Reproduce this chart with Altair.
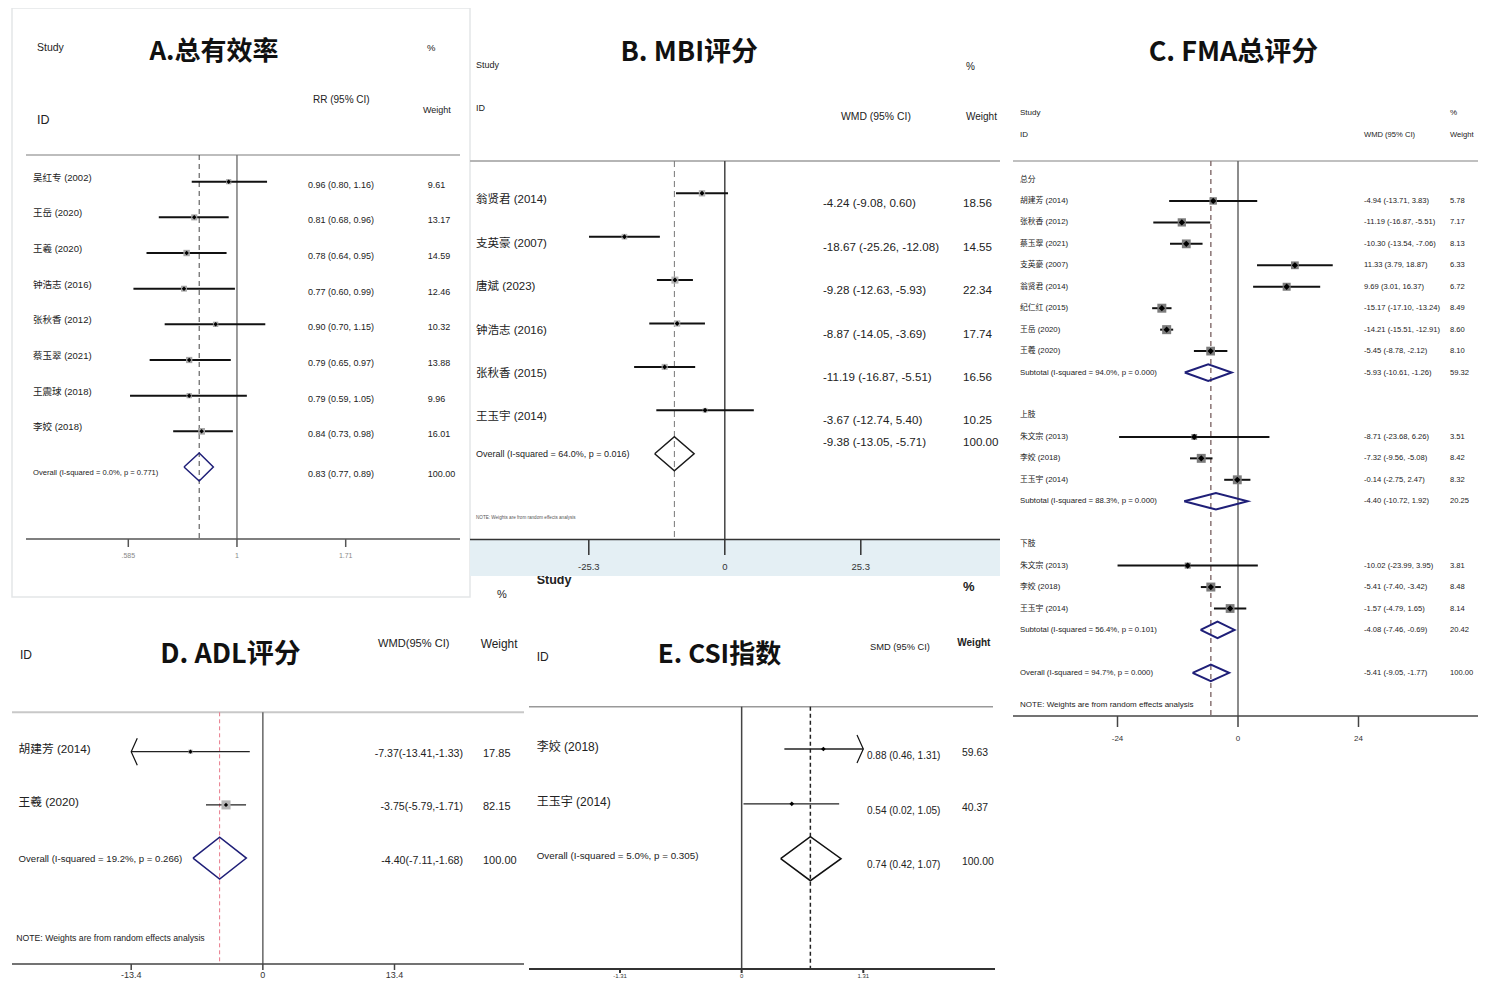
import altair as alt
import pandas as pd

# ---------------- data ----------------
# A. 总有效率 (RR)
A_LABELS = ["吴红专 (2002)", "王岳 (2020)", "王羲 (2020)", "钟浩志 (2016)", "张秋香 (2012)",
            "蔡玉翠 (2021)", "王震球 (2018)", "李姣 (2018)", "Overall  (I-squared = 0.0%, p = 0.771)"]
A_EST = [0.96, 0.81, 0.78, 0.77, 0.90, 0.79, 0.79, 0.84, 0.83]
A_LO = [0.80, 0.68, 0.64, 0.60, 0.70, 0.65, 0.59, 0.73, 0.77]
A_HI = [1.16, 0.96, 0.95, 0.99, 1.15, 0.97, 1.05, 0.98, 0.89]
A_WT = [9.61, 13.17, 14.59, 12.46, 10.32, 13.88, 9.96, 16.01, 100.00]
A_KIND = ["study"] * 8 + ["pool"]
A_ROW = list(range(9))

# B. MBI评分 (WMD)
B_LABELS = ["翁贤君 (2014)", "支英豪 (2007)", "唐斌 (2023)", "钟浩志 (2016)", "张秋香 (2015)",
            "王玉宇 (2014)", "Overall  (I-squared = 64.0%, p = 0.016)"]
B_EST = [-4.24, -18.67, -9.28, -8.87, -11.19, -3.67, -9.38]
B_LO = [-9.08, -25.26, -12.63, -14.05, -16.87, -12.74, -13.05]
B_HI = [0.60, -12.08, -5.93, -3.69, -5.51, 5.40, -5.71]
B_WT = [18.56, 14.55, 22.34, 17.74, 16.56, 10.25, 100.00]
B_KIND = ["study"] * 6 + ["pool"]
B_ROW = list(range(7))

# C. FMA总评分 (WMD, subgroups)
C_LABELS = ["总分", "胡建芳 (2014)", "张秋香 (2012)", "蔡玉翠 (2021)", "支英豪 (2007)", "翁贤君 (2014)",
            "纪仁红 (2015)", "王岳 (2020)", "王羲 (2020)", "Subtotal  (I-squared = 94.0%, p = 0.000)",
            "上肢", "朱文宗 (2013)", "李姣 (2018)", "王玉宇 (2014)", "Subtotal  (I-squared = 88.3%, p = 0.000)",
            "下肢", "朱文宗 (2013)", "李姣 (2018)", "王玉宇 (2014)", "Subtotal  (I-squared = 56.4%, p = 0.101)",
            "Overall  (I-squared = 94.7%, p = 0.000)"]
C_EST = [None, -4.94, -11.19, -10.30, 11.33, 9.69, -15.17, -14.21, -5.45, -5.93,
         None, -8.71, -7.32, -0.14, -4.40,
         None, -10.02, -5.41, -1.57, -4.08, -5.41]
C_LO = [None, -13.71, -16.87, -13.54, 3.79, 3.01, -17.10, -15.51, -8.78, -10.61,
        None, -23.68, -9.56, -2.75, -10.72,
        None, -23.99, -7.40, -4.79, -7.46, -9.05]
C_HI = [None, 3.83, -5.51, -7.06, 18.87, 16.37, -13.24, -12.91, -2.12, -1.26,
        None, 6.26, -5.08, 2.47, 1.92,
        None, 3.95, -3.42, 1.65, -0.69, -1.77]
C_WT = [None, 5.78, 7.17, 8.13, 6.33, 6.72, 8.49, 8.60, 8.10, 59.32,
        None, 3.51, 8.42, 8.32, 20.25,
        None, 3.81, 8.48, 8.14, 20.42, 100.00]
C_KIND = ["group"] + ["study"] * 8 + ["pool"] + ["group"] + ["study"] * 3 + ["pool"] + \
         ["group"] + ["study"] * 3 + ["pool"] + ["pool"]
C_ROW = [0, 1, 2, 3, 4, 5, 6, 7, 8, 9, 11, 12, 13, 14, 15, 17, 18, 19, 20, 21, 23]

# D. ADL评分 (WMD)
D_LABELS = ["胡建芳 (2014)", "王羲 (2020)", "Overall  (I-squared = 19.2%, p = 0.266)"]
D_EST = [-7.37, -3.75, -4.40]
D_LO = [-13.41, -5.79, -7.11]
D_HI = [-1.33, -1.71, -1.68]
D_WT = [17.85, 82.15, 100.00]
D_KIND = ["study", "study", "pool"]
D_ROW = [0, 1, 2]
D_ARROW = ["left", "", ""]

# E. CSI指数 (SMD)
E_LABELS = ["李姣 (2018)", "王玉宇 (2014)", "Overall  (I-squared = 5.0%, p = 0.305)"]
E_EST = [0.88, 0.54, 0.74]
E_LO = [0.46, 0.02, 0.42]
E_HI = [1.31, 1.05, 1.07]
E_WT = [59.63, 40.37, 100.00]
E_KIND = ["study", "study", "pool"]
E_ROW = [0, 1, 2]
E_ARROW = ["right", "", ""]

NOTE = "NOTE: Weights are from random effects analysis"

# ---------------- helpers ----------------
NARROW = "Liberation Sans, Arial, Noto Sans CJK SC, sans-serif"
TITLEF = "Noto Sans CJK SC, Noto Sans, sans-serif"
OFF = 8
DUMMY = pd.DataFrame({"d": [0]})
LEFT_ARROW = "M0.45,-1L0,0L0.45,1"
RIGHT_ARROW = "M-0.45,-1L0,0L-0.45,1"


def P(v):
    return v - OFF


def label(text, x, y, size, bold=False, align="left", color="#222", font=NARROW):
    return alt.Chart(DUMMY).mark_text(
        text=text, align=align, baseline="middle", fontSize=size,
        fontWeight="bold" if bold else "normal", color=color, font=font
    ).encode(x=alt.value(P(x)), y=alt.value(P(y)))


def hline(x0, x1, y, color, width):
    return alt.Chart(DUMMY).mark_rule(color=color, strokeWidth=width).encode(
        x=alt.value(P(x0)), x2=alt.value(P(x1)), y=alt.value(P(y)))


def panel(lbls, est, lo, hi, wt, kind, rows, c, arrows=None):
    L = []
    df = pd.DataFrame({"label": lbls, "est": est, "lo": lo, "hi": hi, "w": wt,
                       "kind": kind, "row": rows})
    df["arrow"] = arrows if arrows else [""] * len(df)
    clo, chi = c.get("clip", (-1e9, 1e9))
    df["lo_d"] = df["lo"].clip(lower=clo)
    df["hi_d"] = df["hi"].clip(upper=chi)
    fmt = c.get("fmt", "{:.2f} ({:.2f}, {:.2f})")
    df["ci"] = [fmt.format(e, l, h) if k != "group" else ""
                for e, l, h, k in zip(df["est"], df["lo"], df["hi"], df["kind"])]
    df["wt"] = ["{:.2f}".format(w) if k != "group" else "" for w, k in zip(df["w"], df["kind"])]
    df["sz"] = df["w"] * c["sq_k"]

    xs = alt.Scale(type=c["xtype"], domain=c["xdom"], range=[P(c["xrng"][0]), P(c["xrng"][1])], nice=False)
    ys = alt.Scale(domain=[0, 1], range=[P(c["row0"]), P(c["row0"] + c["step"])], nice=False)

    def X(f):
        return alt.X(f, scale=xs, axis=None)

    def Y(f):
        return alt.Y(f, scale=ys, axis=None)

    st = df[df["kind"] == "study"].copy()
    pl = df[df["kind"] == "pool"].copy()
    gr = df[df["kind"] == "group"].copy()

    if "band" in c:
        x0, x1, y0, y1, col = c["band"]
        L.append(alt.Chart(DUMMY).mark_rect(color=col).encode(
            x=alt.value(P(x0)), x2=alt.value(P(x1)), y=alt.value(P(y0)), y2=alt.value(P(y1))))
    if "frame" in c:
        x0, x1, y0, y1, col = c["frame"]
        L.append(alt.Chart(DUMMY).mark_rect(filled=False, color=col, strokeWidth=1.5).encode(
            x=alt.value(P(x0)), x2=alt.value(P(x1)), y=alt.value(P(y0)), y2=alt.value(P(y1))))

    for h in c["heads"]:
        L.append(label(*h))

    hx0, hx1, hy, hcol, hw = c["hline"]
    L.append(hline(hx0, hx1, hy, hcol, hw))

    # null line and pooled-estimate dashed line
    L.append(alt.Chart(pd.DataFrame({"v": [c["null"]]})).mark_rule(
        color=c["null_color"], strokeWidth=c["null_w"]).encode(
        x=X("v:Q"), y=alt.value(P(c["vtop"])), y2=alt.value(P(c["vbot"]))))
    L.append(alt.Chart(pd.DataFrame({"v": [df["est"].iloc[-1]]})).mark_rule(
        color=c["dash_color"], strokeWidth=c["dash_w"], strokeDash=c["dash"]).encode(
        x=X("v:Q"), y=alt.value(P(c["vtop"])), y2=alt.value(P(c["vbot"]))))

    # axis
    ax0, ax1, ay, acol, aw = c["axis"]
    L.append(hline(ax0, ax1, ay, acol, aw))
    tdf = pd.DataFrame({"t": c["ticks"], "lab": c["tick_labels"]})
    L.append(alt.Chart(tdf).mark_rule(color=acol, strokeWidth=aw).encode(
        x=X("t:Q"), y=alt.value(P(c["tick_y"][0])), y2=alt.value(P(c["tick_y"][1]))))
    L.append(alt.Chart(tdf).mark_text(fontSize=c["tick_size"], color=c["tick_color"], font=NARROW,
                                      baseline="middle").encode(
        x=X("t:Q"), y=alt.value(P(c["tick_lab_y"])), text="lab:N"))

    # study CIs, weight boxes, point estimates, arrows
    L.append(alt.Chart(st).mark_rule(color=c["ci_color"], strokeWidth=c["ci_w"]).encode(
        x=X("lo_d:Q"), x2=alt.X2("hi_d:Q"), y=Y("row:Q")))
    if c["sq_k"] > 0:
        L.append(alt.Chart(st).mark_square(color=c["sq_color"], opacity=1).encode(
            x=X("est:Q"), y=Y("row:Q"), size=alt.Size("sz:Q", scale=None, legend=None)))
    L.append(alt.Chart(st).mark_point(shape="diamond", filled=True, color="black", opacity=1,
                                      size=c["dot"]).encode(x=X("est:Q"), y=Y("row:Q")))
    la = st[st["arrow"] == "left"]
    if len(la):
        L.append(alt.Chart(la).mark_point(shape=LEFT_ARROW, filled=False, color="#111", opacity=1,
                                          strokeWidth=1.2, size=c["arrow_size"]).encode(
            x=X("lo_d:Q"), y=Y("row:Q")))
    ra = st[st["arrow"] == "right"]
    if len(ra):
        L.append(alt.Chart(ra).mark_point(shape=RIGHT_ARROW, filled=False, color="#111", opacity=1,
                                          strokeWidth=1.2, size=c["arrow_size"]).encode(
            x=X("hi_d:Q"), y=Y("row:Q")))

    # pooled diamonds
    hh = c["dia_hh"] / c["step"]
    pts = []
    for g, r in pl.iterrows():
        for o, (xv, yo) in enumerate([(r["lo"], 0), (r["est"], -hh), (r["hi"], 0), (r["est"], hh), (r["lo"], 0)]):
            pts.append({"g": int(g), "o": o, "x": xv, "y": r["row"] + yo})
    L.append(alt.Chart(pd.DataFrame(pts)).mark_line(color=c["dia_color"], strokeWidth=c["dia_w"]).encode(
        x=X("x:Q"), y=Y("y:Q"), detail="g:N", order="o:Q"))

    # text columns
    for part, key in ((st, "study"), (pl, "pool"), (gr, "group")):
        if len(part) == 0:
            continue
        size, dy = c["lab"][key]
        L.append(alt.Chart(part).mark_text(align="left", baseline="middle", fontSize=size, dy=dy,
                                           color="#222", font=NARROW).encode(
            x=alt.value(P(c["lab_x"])), y=Y("row:Q"), text="label:N"))
        if key == "group":
            continue
        size, dy = c["ci"][key]
        L.append(alt.Chart(part).mark_text(align=c.get("ci_align", "left"), baseline="middle", fontSize=size,
                                           dy=dy, color="#222", font=NARROW).encode(
            x=alt.value(P(c["ci_x"])), y=Y("row:Q"), text="ci:N"))
        size, dy = c["w"][key]
        L.append(alt.Chart(part).mark_text(align="left", baseline="middle", fontSize=size, dy=dy,
                                           color="#222", font=NARROW).encode(
            x=alt.value(P(c["w_x"])), y=Y("row:Q"), text="wt:N"))
    return L


NAVY = "#1f1f78"

cfgA = dict(
    xtype="log", xdom=[0.585, 1.71], xrng=[128.3, 345.7], row0=181.7, step=35.66,
    null=1, vtop=155, vbot=539, null_color="#7a7a7a", null_w=1.5,
    dash_color="#444", dash=[5, 4], dash_w=1,
    ci_w=2, ci_color="#111", sq_k=2.8, sq_color="#a8a8a8", dot=20,
    dia_hh=14, dia_color=NAVY, dia_w=1.5,
    lab_x=33, lab={"study": (9.5, -4), "pool": (7.6, 6)},
    ci_x=308, ci={"study": (9, 3), "pool": (9, 7)},
    w_x=427.7, w={"study": (9, 3), "pool": (9, 7)},
    hline=(26, 460, 155, "#bdbdbd", 2), axis=(26, 460, 539, "#555", 1.5),
    ticks=[0.585, 1, 1.71], tick_labels=[".585", "1", "1.71"], tick_y=(539, 547), tick_lab_y=556,
    tick_size=7, tick_color="#888",
    frame=(12, 470, 8, 597, "#e4e6e8"),
    heads=[("A.总有效率", 214, 52, 26, True, "center", "#111", TITLEF),
           ("Study", 37, 48, 10.5), ("ID", 37, 120, 12.5), ("RR (95% CI)", 313, 100, 10),
           ("%", 427, 48, 9.5), ("Weight", 423, 110, 9)],
)

cfgB = dict(
    xtype="linear", xdom=[-25.3, 25.3], xrng=[588.8, 860.8], row0=193.3, step=43.4,
    null=0, vtop=161, vbot=540, null_color="#444", null_w=1.5,
    dash_color="#777", dash=[6, 4], dash_w=1,
    ci_w=2, ci_color="#111", sq_k=2.2, sq_color="#b4b4b4", dot=25,
    dia_hh=17, dia_color="#1a1a1a", dia_w=1.5,
    lab_x=476, lab={"study": (11.5, 7), "pool": (9, 0)},
    ci_x=823, ci={"study": (11.6, 11), "pool": (11.6, -11)},
    w_x=963, w={"study": (11.6, 11), "pool": (11.6, -11)},
    hline=(470, 1000, 161, "#b5b5b5", 2), axis=(470, 1000, 539.5, "#333", 1.5),
    ticks=[-25.3, 0, 25.3], tick_labels=["-25.3", "0", "25.3"], tick_y=(540, 555), tick_lab_y=566.7,
    tick_size=9.5, tick_color="#333",
    band=(470, 1000, 540, 576, "#e4eff4"),
    heads=[("B. MBI评分", 689.3, 53.3, 27, True, "center", "#111", TITLEF),
           ("Study", 476, 65, 9), ("ID", 476, 107.7, 9), ("WMD (95% CI)", 841, 117.3, 10.4),
           ("%", 966, 66.7, 10), ("Weight", 966, 117.3, 10), (NOTE, 476, 518, 4.6, False, "left", "#555")],
)

cfgC = dict(
    xtype="linear", xdom=[-24, 24], xrng=[1117.5, 1358.5], row0=179.5, step=21.45,
    null=0, vtop=161, vbot=716, null_color="#666", null_w=1.5,
    dash_color="#8a7474", dash=[5, 4], dash_w=1.5,
    ci_w=2, ci_color="#111", sq_k=9.5, sq_color="#7c7c7c", dot=40,
    dia_hh=8.3, dia_color=NAVY, dia_w=2,
    lab_x=1020, lab={"study": (7.8, 0), "pool": (7.8, 0), "group": (7.8, 0)},
    ci_x=1364, ci={"study": (7.6, 0), "pool": (7.6, 0)},
    w_x=1450, w={"study": (7.6, 0), "pool": (7.6, 0)},
    hline=(1013, 1486, 161, "#c0c0c0", 2), axis=(1013, 1486, 716, "#444", 1.5),
    ticks=[-24, 0, 24], tick_labels=["-24", "0", "24"], tick_y=(716, 727), tick_lab_y=739.3,
    tick_size=8, tick_color="#333",
    heads=[("C. FMA总评分", 1233.5, 53, 27, True, "center", "#111", TITLEF),
           ("Study", 1020, 113.3, 8), ("ID", 1020, 135, 8), ("WMD (95% CI)", 1364, 135, 7.6),
           ("%", 1450, 113, 8), ("Weight", 1450, 135, 7.6), (NOTE, 1020, 705, 8)],
)

cfgD = dict(
    xtype="linear", xdom=[-13.4, 13.4], xrng=[131.2, 394.5], row0=751.7, step=53.2, clip=(-13.4, 13.4),
    null=0, vtop=712.3, vbot=964, null_color="#666", null_w=1.5,
    dash_color="#e8798a", dash=[4, 3], dash_w=1,
    ci_w=1.3, ci_color="#222", sq_k=1.0, sq_color="#b5b5b5", dot=18, arrow_size=729,
    dia_hh=21, dia_color=NAVY, dia_w=1.5,
    fmt="{:.2f}({:.2f},{:.2f})",
    lab_x=18.6, lab={"study": (11.7, -3), "pool": (9.6, 1)},
    ci_x=463, ci_align="right", ci={"study": (10.6, 2), "pool": (10.6, 3)},
    w_x=483, w={"study": (11, 2), "pool": (11, 3)},
    hline=(12, 524, 712.3, "#c8c8c8", 2), axis=(12, 524, 964, "#444", 1.5),
    ticks=[-13.4, 0, 13.4], tick_labels=["-13.4", "0", "13.4"], tick_y=(964, 970), tick_lab_y=975,
    tick_size=9, tick_color="#333",
    heads=[("D. ADL评分", 230.5, 655, 27, True, "center", "#111", TITLEF),
           ("%", 497, 595, 11), ("ID", 20, 655, 12), ("WMD(95% CI)", 378, 644.3, 11.1),
           ("Weight", 480.7, 644, 11.9), (NOTE, 16.2, 938.3, 8.7)],
)

cfgE = dict(
    xtype="linear", xdom=[-1.31, 1.31], xrng=[620, 863.3], row0=749, step=54.85, clip=(-1.31, 1.31),
    null=0, vtop=706.7, vbot=969, null_color="#444", null_w=1.5,
    dash_color="#222", dash=[4, 3], dash_w=1.5,
    ci_w=1.3, ci_color="#222", sq_k=0, sq_color="#b5b5b5", dot=22, arrow_size=784,
    dia_hh=22, dia_color="#111", dia_w=1.5,
    lab_x=536.7, lab={"study": (12, -2), "pool": (9.8, -2.7)},
    ci_x=867, ci={"study": (10, 7), "pool": (10, 6)},
    w_x=962, w={"study": (10.4, 4), "pool": (10.4, 3)},
    hline=(529, 993, 706.7, "#999", 1.5), axis=(529, 995, 969, "#333", 2),
    ticks=[-1.31, 0, 1.31], tick_labels=["-1.31", "0", "1.31"], tick_y=(969, 973), tick_lab_y=976,
    tick_size=6, tick_color="#333",
    heads=[("E. CSI指数", 719.5, 655, 26, True, "center", "#111", TITLEF),
           ("Study", 536.7, 580, 12.5, True), ("%", 963, 586.7, 13, True), ("ID", 536.7, 657.3, 12),
           ("SMD (95% CI)", 870, 647.3, 9.3), ("Weight", 957.3, 642.7, 10, True)],
)

layers = []
layers += panel(E_LABELS, E_EST, E_LO, E_HI, E_WT, E_KIND, E_ROW, cfgE, E_ARROW)
layers += panel(D_LABELS, D_EST, D_LO, D_HI, D_WT, D_KIND, D_ROW, cfgD, D_ARROW)
layers += panel(A_LABELS, A_EST, A_LO, A_HI, A_WT, A_KIND, A_ROW, cfgA)
layers += panel(C_LABELS, C_EST, C_LO, C_HI, C_WT, C_KIND, C_ROW, cfgC)
layers += panel(B_LABELS, B_EST, B_LO, B_HI, B_WT, B_KIND, B_ROW, cfgB)

chart = alt.layer(*layers).resolve_scale(x="independent", y="independent").properties(
    width=1470, height=971, background="white", padding=0,
    autosize=alt.AutoSizeParams(type="none")
).configure_view(stroke=None)

chart.save("out.html", embed_options={"renderer": "svg", "actions": False})
